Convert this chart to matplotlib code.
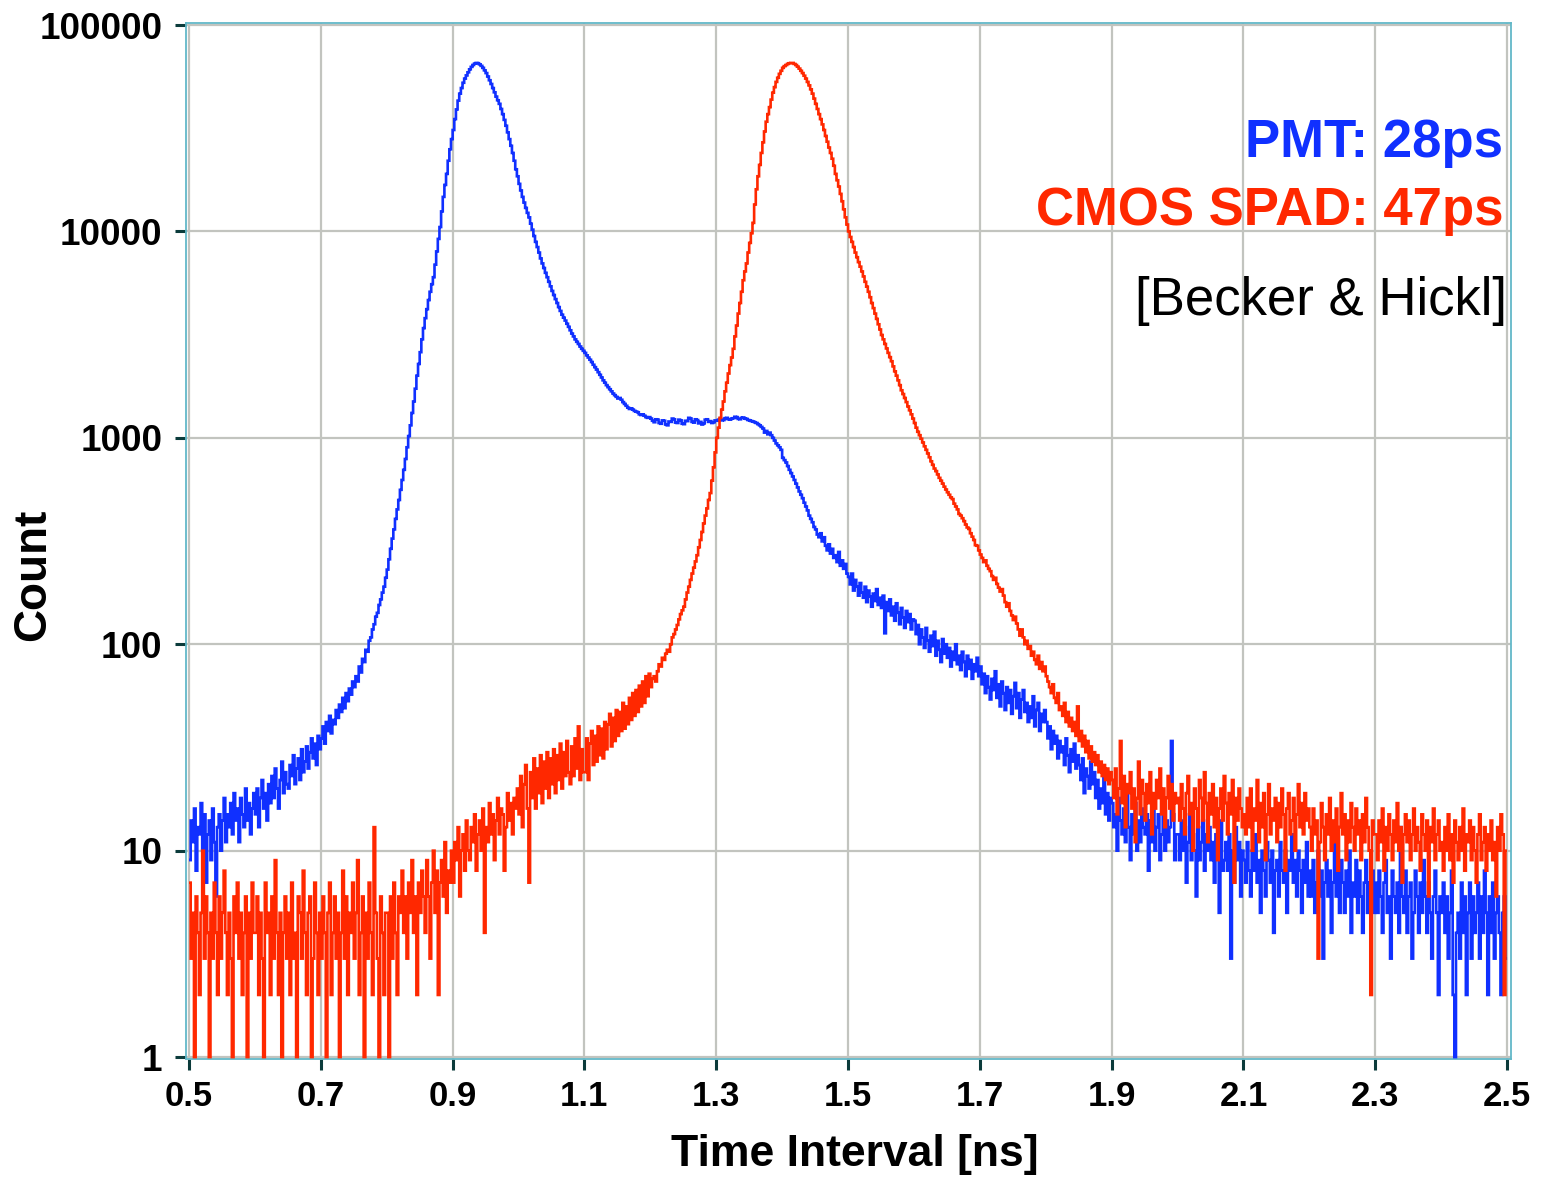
import numpy as np
import matplotlib.pyplot as plt
from matplotlib.ticker import NullLocator

plt.rcParams['font.family'] = ['Liberation Sans', 'DejaVu Sans']

# histogram bins: 2.5 ps wide, starting at 0.5 ns
bin_start = 0.5
bin_width = 0.0025

# PMT counts per bin, one row = 0.1 ns (40 bins)
pmt_counts = [
    9, 14, 11, 16, 8, 13, 12, 17, 10, 15, 7, 12, 14, 9, 16, 11, 6, 13, 15, 10, 14, 18, 11, 15, 13, 17, 12, 19, 14, 16, 11, 18, 15, 13, 20, 14, 17, 12, 16, 19,
    15, 20, 13, 18, 22, 16, 19, 14, 21, 17, 23, 18, 25, 20, 16, 22, 27, 19, 24, 21, 20, 26, 23, 29, 21, 25, 28, 22, 31, 24, 27, 32, 25, 30, 35, 28, 33, 26, 36, 31,
    35, 40, 33, 42, 38, 45, 37, 43, 41, 48, 44, 51, 47, 55, 49, 58, 53, 61, 57, 66, 62, 70, 66, 78, 73, 85, 82, 94, 92, 104, 108, 118, 125, 136, 142, 155, 165, 178, 190, 210,
    230, 258, 290, 325, 360, 405, 450, 500, 560, 625, 700, 790, 900, 1020, 1150, 1320, 1500, 1730, 2000, 2280,
    2600, 3000, 3400, 3800, 4200, 4650, 5100, 5550, 6000, 6900, 8000, 9200, 10500, 12500, 14700, 16800, 19000, 22000, 25000, 28000,
    31000, 35000, 39000, 43000, 46500, 49500, 52500, 55000, 57000, 59000, 61000, 62700, 64000, 65000, 65500, 65300, 64500, 63400, 62000, 60300,
    58500, 56300, 54000, 51800, 49500, 47200, 45000, 43200, 41500, 39200, 37000, 34700, 32500, 30200, 28000, 26000, 24000, 22000, 20000, 18500,
    17000, 15800, 14700, 13800, 13000, 12300, 11700, 10900, 10200, 9500, 8900, 8400, 7900, 7400, 7000, 6650, 6300, 6000, 5700, 5420,
    5150, 4920, 4700, 4500, 4300, 4120, 3950, 3820, 3700, 3570, 3450, 3320, 3200, 3100, 3000, 2920, 2850, 2770, 2700, 2640,
    2580, 2510, 2450, 2390, 2330, 2260, 2200, 2140, 2080, 2020, 1960, 1900, 1850, 1800, 1760, 1720, 1680, 1640, 1610, 1580,
    1550, 1560, 1530, 1490, 1460, 1430, 1400, 1380, 1390, 1370, 1350, 1340, 1330, 1300, 1290, 1300, 1280, 1260, 1250, 1260,
    1240, 1210, 1190, 1230, 1225, 1180, 1170, 1215, 1210, 1160, 1150, 1200, 1195, 1240, 1230, 1185, 1180, 1225, 1215, 1170,
    1165, 1210, 1205, 1250, 1240, 1195, 1185, 1230, 1220, 1175, 1195, 1160, 1175, 1225, 1230, 1195, 1205, 1180, 1190, 1215,
    1210, 1225, 1235, 1215, 1220, 1245, 1250, 1230, 1225, 1240, 1245, 1265, 1260, 1235, 1230, 1250, 1255, 1240, 1235, 1220,
    1215, 1205, 1200, 1190, 1180, 1165, 1150, 1130, 1110, 1060, 1080, 1040, 1060, 1030, 1000, 970, 940, 920, 900, 875,
    800, 780, 760, 730, 700, 675, 650, 625, 600, 575, 550, 530, 510, 485, 465, 445, 420, 405, 390, 370,
    360, 340, 330, 345, 315, 330, 300, 285, 305, 275, 290, 262, 270, 250, 280, 240, 255, 232, 245, 220,
    212, 195, 220, 182, 205, 190, 172, 198, 178, 168, 190, 160, 182, 170, 152, 176, 162, 185, 155, 168,
    150, 172, 113, 160, 145, 165, 138, 152, 130, 158, 142, 125, 150, 135, 120, 145, 128, 140, 118, 132,
    130, 112, 124, 100, 118, 108, 96, 120, 104, 92, 110, 98, 115, 88, 104, 94, 82, 106, 90, 100,
    86, 96, 78, 92, 84, 100, 80, 88, 75, 92, 82, 70, 88, 76, 84, 68, 80, 74, 86, 70,
    78, 64, 72, 58, 70, 62, 54, 68, 60, 74, 55, 64, 50, 66, 58, 48, 62, 52, 60, 46,
    56, 65, 49, 58, 44, 54, 60, 47, 52, 42, 50, 44, 56, 40, 48, 52, 38, 46, 42, 48,
    42, 35, 40, 31, 38, 33, 36, 28, 34, 30, 32, 26, 35, 29, 24, 31, 27, 33, 25, 29,
    26, 22, 28, 19, 25, 23, 20, 27, 21, 24, 18, 22, 16, 20, 17, 23, 15, 19, 14, 18,
    17, 13, 15, 10, 18, 14, 12, 16, 11, 19, 13, 9, 15, 12, 17, 10, 14, 11, 16, 13,
    12, 15, 8, 14, 11, 17, 10, 13, 15, 9, 12, 16, 10, 14, 11, 13, 34, 15, 9, 12,
    12, 9, 14, 10, 13, 7, 11, 15, 9, 12, 10, 6, 13, 9, 11, 14, 8, 12, 10, 13,
    9, 11, 7, 12, 10, 5, 14, 8, 9, 11, 8, 12, 3, 10, 7, 13, 9, 11, 6, 10,
    9, 7, 11, 8, 6, 10, 8, 12, 7, 9, 5, 10, 8, 6, 11, 9, 7, 10, 4, 8,
    9, 6, 11, 8, 7, 10, 5, 9, 8, 12, 7, 9, 6, 10, 8, 5, 9, 7, 11, 6,
    8, 6, 9, 5, 7, 10, 6, 8, 3, 7, 9, 6, 8, 4, 7, 11, 6, 8, 5, 9,
    7, 5, 8, 6, 10, 4, 7, 6, 9, 5, 8, 6, 4, 7, 9, 5, 7, 6, 8, 5,
    7, 5, 8, 6, 4, 7, 9, 5, 6, 3, 8, 6, 5, 7, 4, 13, 6, 5, 8, 4,
    6, 7, 3, 5, 8, 6, 4, 7, 5, 9, 6, 4, 7, 5, 3, 6, 8, 5, 2, 6,
    5, 7, 4, 6, 3, 5, 8, 2, 1, 4, 5, 3, 7, 4, 6, 2, 5, 7, 3, 6,
    4, 5, 7, 3, 6, 4, 8, 5, 2, 6, 4, 7, 3, 5, 6, 4, 2, 5, 6, 3,
]

# CMOS SPAD counts per bin, one row = 0.1 ns (40 bins)
spad_counts = [
    7, 3, 5, 1, 6, 4, 2, 5, 10, 3, 6, 4, 1, 5, 3, 7, 4, 2, 6, 3, 5, 8, 4, 2, 5, 3, 1, 6, 4, 7, 3, 5, 2, 4, 6, 1, 5, 3, 7, 4,
    4, 6, 2, 5, 3, 1, 7, 4, 5, 2, 6, 3, 9, 4, 2, 5, 1, 4, 6, 3, 5, 2, 7, 3, 4, 1, 6, 5, 3, 8, 4, 2, 5, 6, 1, 3, 7, 4, 2, 5,
    3, 6, 4, 1, 5, 7, 2, 4, 6, 3, 5, 1, 4, 8, 3, 6, 2, 5, 4, 7, 3, 5, 9, 2, 4, 6, 1, 5, 3, 7, 4, 2, 13, 5, 3, 1, 6, 4, 2, 5,
    5, 1, 6, 3, 7, 4, 2, 6, 5, 8, 4, 6, 3, 7, 5, 9, 4, 6, 2, 7, 5, 8, 6, 4, 9, 6, 3, 7, 10, 5, 8, 2, 7, 9, 6, 11, 5, 8, 7, 10,
    7, 11, 9, 13, 6, 10, 12, 8, 14, 10, 9, 13, 11, 15, 8, 12, 14, 10, 16, 4, 13, 11, 17, 12, 15, 9, 14, 18, 12, 16, 15, 8, 13, 19, 14, 17, 12, 18, 16, 20,
    15, 23, 13, 21, 26, 16, 7, 24, 18, 28, 16, 25, 19, 29, 17, 27, 20, 30, 18, 28, 21, 31, 19, 29, 22, 33, 20, 30, 23, 34, 24, 21, 32, 23, 35, 25, 40, 22, 31, 24,
    24, 35, 22, 33, 38, 26, 36, 27, 40, 29, 39, 28, 42, 31, 41, 46, 32, 44, 34, 48, 36, 47, 38, 52, 39, 50, 41, 55, 43, 58, 45, 60, 47, 63, 50, 66, 52, 70, 56, 72,
    62, 68, 70, 66, 74, 80, 78, 86, 84, 90, 94, 92, 100, 108, 112, 118, 124, 132, 140, 146,
    152, 165, 178, 190, 205, 220, 235, 252, 270, 295, 320, 350, 385, 420, 455, 500, 540, 620, 720, 850,
    1000, 1120, 1250, 1370, 1500, 1680, 1850, 2050, 2250, 2450, 2700, 3100, 3500, 4000, 4500, 5100, 5800, 6400, 7000, 7900,
    8800, 9800, 11000, 13500, 16000, 18500, 21000, 24000, 27000, 30500, 34000, 37000, 40000, 43500, 47000, 50000, 53000, 55500, 58000, 60000,
    62000, 63200, 64000, 64800, 65300, 65500, 65500, 64800, 64000, 62800, 61500, 60000, 58500, 56800, 55000, 53000, 51000, 48800, 46500, 44000,
    41500, 39200, 37000, 35000, 33000, 31000, 29000, 27200, 25500, 24000, 22500, 20800, 19000, 17700, 16500, 15200, 14000, 12800, 11700, 10800,
    10000, 9400, 8900, 8400, 7900, 7500, 7100, 6750, 6400, 6050, 5700, 5400, 5100, 4800, 4500, 4250, 4000, 3770, 3550, 3350,
    3150, 3000, 2850, 2710, 2580, 2460, 2350, 2220, 2100, 2000, 1900, 1800, 1700, 1630, 1560, 1490, 1420, 1360, 1300, 1240,
    1180, 1120, 1070, 1030, 990, 950, 910, 875, 840, 805, 770, 740, 710, 690, 665, 640, 620, 600, 580, 562,
    545, 530, 515, 505, 480, 465, 450, 428, 420, 408, 395, 380, 368, 362, 345, 332, 320, 302, 300, 285,
    272, 262, 250, 255, 240, 232, 226, 214, 205, 210, 196, 188, 180, 185, 172, 160, 152, 158, 145, 138,
    131, 136, 126, 118, 110, 118, 108, 100, 104, 95, 98, 88, 92, 84, 80, 88, 76, 82, 74, 78,
    70, 66, 62, 58, 64, 55, 52, 58, 48, 50, 45, 52, 42, 47, 40, 44, 38, 42, 36, 50,
    34, 38, 32, 36, 30, 34, 28, 32, 27, 30, 26, 29, 24, 27, 23, 26, 22, 25, 21, 24,
    22, 18, 25, 15, 20, 34, 17, 23, 13, 21, 19, 24, 16, 20, 11, 18, 27, 15, 22, 19, 14, 21, 17, 24, 12, 19, 16, 22, 18, 25, 15, 20, 13, 18, 23, 16, 21, 14, 19, 17,
    18, 14, 21, 16, 12, 19, 23, 15, 17, 10, 20, 16, 13, 22, 18, 14, 24, 17, 11, 19, 15, 21, 13, 18, 9, 16, 20, 14, 23, 17, 12, 19, 15, 22, 7, 18, 14, 20, 16, 13,
    15, 12, 18, 13, 20, 10, 16, 14, 22, 11, 17, 13, 19, 9, 15, 21, 12, 16, 14, 18, 11, 17, 13, 20, 15, 8, 16, 19, 12, 14, 18, 10, 15, 21, 13, 17, 12, 19, 14, 16,
    13, 10, 16, 12, 14, 3, 11, 17, 13, 9, 15, 12, 18, 10, 14, 11, 16, 8, 13, 19, 12, 15, 9, 14, 11, 17, 13, 10, 16, 12, 14, 9, 15, 11, 18, 13, 10, 2, 14, 12,
    12, 9, 14, 11, 16, 8, 13, 10, 15, 12, 9, 14, 11, 17, 10, 13, 7, 12, 15, 11, 14, 9, 12, 16, 10, 13, 11, 8, 15, 12, 10, 14, 6, 13, 11, 16, 9, 12, 14, 10,
    11, 8, 13, 10, 15, 9, 12, 7, 14, 11, 9, 13, 10, 16, 8, 12, 11, 14, 9, 13, 10, 7, 12, 15, 9, 11, 13, 8, 12, 10, 14, 9, 11, 6, 13, 10, 15, 12, 2, 10,
]

x_ticks = [0.5, 0.7, 0.9, 1.1, 1.3, 1.5, 1.7, 1.9, 2.1, 2.3, 2.5]
x_labels = ["0.5", "0.7", "0.9", "1.1", "1.3", "1.5", "1.7", "1.9", "2.1", "2.3", "2.5"]
y_ticks = [1, 10, 100, 1000, 10000, 100000]
y_labels = ["1", "10", "100", "1000", "10000", "100000"]

blue = "#1030ff"
red = "#ff2800"

pmt_edges = bin_start + bin_width * np.arange(len(pmt_counts) + 1)
spad_edges = bin_start + bin_width * np.arange(len(spad_counts) + 1)

fig = plt.figure(figsize=(15.42, 11.8), dpi=100)
ax = fig.add_axes([186 / 1542, 1 - 1059 / 1180, 1325 / 1542, 1036 / 1180])

ax.stairs(pmt_counts, pmt_edges, baseline=None, color=blue, lw=1.9, zorder=3)
ax.stairs(spad_counts, spad_edges, baseline=None, color=red, lw=1.9, zorder=4)

ax.set_yscale("log")
ax.set_xlim(0.4954, 2.506)
ax.set_ylim(0.979, 102260)

ax.set_xticks(x_ticks, x_labels, fontweight="bold", fontsize=25)
ax.set_yticks(y_ticks, y_labels, fontweight="bold", fontsize=26.5)
ax.yaxis.set_minor_locator(NullLocator())
ax.tick_params(axis="both", direction="out", length=8, width=2.2,
               color="#0b3b3b", pad=7)
ax.tick_params(axis="y", pad=9)

ax.grid(True, color="#c2c4bf", lw=1.6)
ax.set_axisbelow(True)
for side in ["left", "bottom", "top", "right"]:
    ax.spines[side].set_color("#62b8c8")
    ax.spines[side].set_linewidth(1.3)

ax.set_xlabel("Time Interval [ns]", fontsize=32, fontweight="bold")
ax.xaxis.set_label_coords(0.505, -0.072)
ax.set_ylabel("Count", fontsize=33, fontweight="bold")
ax.yaxis.set_label_coords(-0.099, 0.467)

ax.text(0.994, 0.8707, "PMT: 28ps", transform=ax.transAxes, ha="right",
        va="baseline", fontsize=38, fontweight="bold", color=blue)
ax.text(0.994, 0.805, "CMOS SPAD: 47ps", transform=ax.transAxes, ha="right",
        va="baseline", fontsize=38, fontweight="bold", color=red)
ax.text(0.997, 0.718, "[Becker & Hickl]", transform=ax.transAxes, ha="right",
        va="baseline", fontsize=38, color="black")

fig.savefig("out.png", dpi=100)
